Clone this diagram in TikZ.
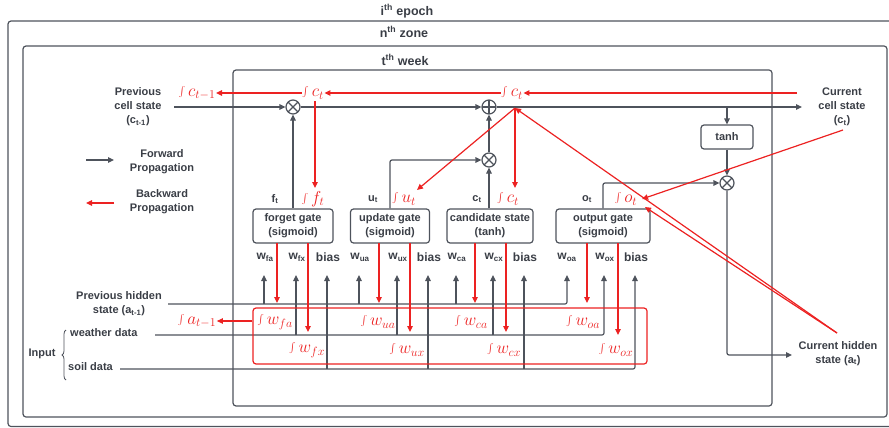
\documentclass[tikz,border=0pt]{standalone}
\usepackage[no-math]{fontspec}
\setmainfont{Liberation Sans}
\usetikzlibrary{arrows.meta,calc,decorations.pathreplacing}
\definecolor{fg}{RGB}{78,83,92}
\definecolor{tx}{RGB}{58,62,70}
\definecolor{rd}{RGB}{236,34,34}
\tikzset{
  ln/.style={draw=fg, line width=1.2pt},
  arr/.style={ln, -{Triangle[length=6pt,width=5.5pt]}},
  rln/.style={draw=rd, line width=1.2pt},
  rarr/.style={rln, -{Triangle[length=6pt,width=5.5pt]}},
  frame/.style={draw=fg, line width=1.2pt, rounded corners=3pt},
  lbl/.style={text=tx, font=\bfseries\fontsize{11}{14}\selectfont, align=center, inner sep=1pt},
  ttl/.style={text=tx, font=\bfseries\fontsize{12.5}{14}\selectfont, inner sep=1pt},
  wl/.style={text=tx, font=\bfseries\fontsize{12}{14}\selectfont, inner sep=1pt},
  gate/.style={draw=fg, line width=1.2pt, rounded corners=3pt, align=center, text=tx,
    font=\bfseries\fontsize{11}{14}\selectfont, minimum height=34pt, inner sep=0pt},
  grad/.style={text=rd, font=\fontsize{17}{19}\selectfont, inner sep=0.5pt},
  opx/.style={circle, draw=fg, line width=1.2pt, minimum size=14pt, inner sep=0pt, fill=white,
    path picture={\draw[fg, line width=1.1pt] (path picture bounding box.north west) -- (path picture bounding box.south east)
      (path picture bounding box.north east) -- (path picture bounding box.south west);}},
  opp/.style={circle, draw=fg, line width=1.2pt, minimum size=14pt, inner sep=0pt, fill=white,
    path picture={\draw[fg, line width=1.1pt] (path picture bounding box.north) -- (path picture bounding box.south)
      (path picture bounding box.east) -- (path picture bounding box.west);}},
}
\begin{document}
\begin{tikzpicture}[x=1pt,y=-1pt]
\useasboundingbox (0,0) rectangle (889,428);
% frames
\draw[frame] (8,21) rectangle (905,426.5);
\draw[frame] (23,46) rectangle (887,417);
\draw[frame] (233,70) rectangle (772,406);
\node[ttl] (epoch) at (407,11) {i\textsuperscript{th} epoch};
\node[ttl] (zone) at (404,32) {n\textsuperscript{th} zone};
\node[ttl] (week) at (405,60) {t\textsuperscript{th} week};

% side labels
\node[lbl] (pcs) at (138,107) {Previous\\cell state\\(c\textsubscript{t-1})};
\node[lbl] (ccs) at (842,107) {Current\\cell state\\(c\textsubscript{t})};
\node[lbl] (chs) at (838,353.5) {Current hidden\\state (a\textsubscript{t})};
\node[lbl] (phs) at (119,304) {Previous hidden\\state (a\textsubscript{t-1})};
\node[lbl, anchor=west] (wd) at (69,333) {weather data};
\node[lbl, anchor=west] (sd) at (67,367) {soil data};
\node[lbl] (inp) at (42,354) {Input};
\coordinate (brb) at (66,380);
\coordinate (brt) at (66,330);
\draw[fg, line width=0.8pt, decorate, decoration={brace, amplitude=4pt}] (brb) -- (brt);

% legend
\node[lbl] (fwd) at (162,161.5) {Forward\\Propagation};
\node[lbl] (bwd) at (162,202) {Backward\\Propagation};
\coordinate (lf1) at (86,160); \coordinate (lf2) at (114,160);
\coordinate (lb1) at (114,203); \coordinate (lb2) at (86,203);
\draw[arr] (lf1) -- (lf2);
\draw[rarr] (lb1) -- (lb2);

% gates
\node[gate, minimum width=80pt] (forget) at (293,226) {forget gate\\(sigmoid)};
\node[gate, minimum width=79pt] (update) at (390,226) {update gate\\(sigmoid)};
\node[gate, minimum width=86pt] (cand) at (490,226) {candidate state\\(tanh)};
\node[gate, minimum width=94pt] (output) at (603,226) {output gate\\(sigmoid)};
\node[gate, minimum width=52pt, minimum height=24pt] (tanh) at (727,137) {tanh};

% operators
\node[opx] (mf) at (293,107) {};
\node[opp] (ma) at (489,107) {};
\node[opx] (mu) at (489,160) {};
\node[opx] (mo) at (727,183) {};

% gate output labels
\node[lbl] (ft) at (275,199) {f\textsubscript{t}};
\node[lbl] (ut) at (373,199) {u\textsubscript{t}};
\node[lbl] (ctl) at (477,199) {c\textsubscript{t}};
\node[lbl] (ot) at (587,199) {o\textsubscript{t}};

% forward cell line
\coordinate (pcsl) at (174,107);
\coordinate (ccsl) at (802,107);
\coordinate (ctap) at (727,107);
\coordinate (chsl) at (792,355);
\draw[arr] (pcsl) -- (mf);
\draw[arr] (mf) -- (ma);
\draw[arr] (ma) -- (ccsl);
\draw[arr] (forget.north -| mf) -- (mf);
\draw[arr, rounded corners=2pt] (update.north) |- (mu);
\draw[arr] (cand.north -| mu) -- (mu);
\draw[arr] (mu) -- (ma);
\draw[arr, rounded corners=2pt] (output.north) |- (mo);
\draw[arr] (ctap) -- (tanh);
\draw[arr] (tanh) -- (mo);
\draw[arr, rounded corners=2pt] (mo) |- (chsl);

% weight labels
\node[wl] (wfa) at (265,257) {w\textsubscript{fa}};
\node[wl] (wfx) at (297,257) {w\textsubscript{fx}};
\node[wl] (bf) at (328,257) {bias};
\node[wl] (wua) at (360,257) {w\textsubscript{ua}};
\node[wl] (wux) at (398,257) {w\textsubscript{ux}};
\node[wl] (bu) at (429,257) {bias};
\node[wl] (wca) at (457,257) {w\textsubscript{ca}};
\node[wl] (wcx) at (494,257) {w\textsubscript{cx}};
\node[wl] (bc) at (525,257) {bias};
\node[wl] (woa) at (567,257) {w\textsubscript{oa}};
\node[wl] (wox) at (605,257) {w\textsubscript{ox}};
\node[wl] (bo) at (636,257) {bias};

% input lines
\coordinate (phl) at (168,304);
\coordinate (wdl) at (155,335);
\coordinate (sdl) at (120,369);
\draw[arr, rounded corners=2pt] (phl) -- (567,304) -- (567,275);
\draw[arr, rounded corners=2pt] (wdl) -- (604,335) -- (604,275);
\draw[arr, rounded corners=2pt] (sdl) -- (635,369) -- (635,275);
\foreach \x/\y in {264/304,296/335,327/369,359/304,397/335,428/369,456/304,493/335,524/369}
  \draw[arr] (\x,\y) -- (\x,275);

% backward: weights
\node[draw=rd, line width=1.2pt, rounded corners=3pt, minimum width=394pt, minimum height=56pt, inner sep=0pt] (gbox) at (450,336) {};
\foreach \x/\y in {277/303,308/332,379/303,410/332,475/303,506/332,587/303,618/335}
  \draw[rarr] (\x,243) -- (\x,\y);
\node[grad] (gwfa) at (275,322) {$\int w_{fa}$};
\node[grad] (gwfx) at (307,350) {$\int w_{fx}$};
\node[grad] (gwua) at (378,322) {$\int w_{ua}$};
\node[grad] (gwux) at (407,350) {$\int w_{ux}$};
\node[grad] (gwca) at (471,322) {$\int w_{ca}$};
\node[grad] (gwcx) at (504,350) {$\int w_{cx}$};
\node[grad] (gwoa) at (583,322) {$\int w_{oa}$};
\node[grad] (gwox) at (616,350) {$\int w_{ox}$};
\node[grad] (gat) at (197,321) {$\int a_{t-1}$};
\draw[rarr] (gbox.west |- gat) -- (gat.east);

% backward: cell
\node[grad] (gct) at (512,93) {$\int c_t$};
\node[grad] (gct2) at (313,93) {$\int c_t$};
\node[grad] (gctm) at (197,93) {$\int c_{t-1}$};
\node[grad] (gft) at (313,199) {$\int f_t$};
\node[grad] (gut) at (404,199) {$\int u_t$};
\node[grad] (gcc) at (508,199) {$\int c_t$};
\node[grad] (got) at (626,199) {$\int o_t$};
\coordinate (ccsr) at (797,93);
\coordinate (ccsb) at (843,130);
\coordinate (chsa) at (837,333);
\coordinate (conv) at (515,108);
\coordinate (ct2d) at (315,101);
\coordinate (ftt) at (315,188);
\coordinate (utt) at (417,190);
\coordinate (cct) at (515,188);
\coordinate (ot1) at (642,199);
\coordinate (ot2) at (645,207);
\draw[rarr] (ccsr) -- (gct.east);
\draw[rarr] (gct.west) -- (gct2.east);
\draw[rarr] (gct2.west) -- (gctm.east);
\draw[rarr] (ct2d) -- (ftt);
\draw[rarr] (chsa) -- (conv);
\draw[rarr] (conv) -- (utt);
\draw[rarr] (conv) -- (cct);
\draw[rarr] (ccsb) -- (ot1);
\draw[rarr] (chsa) -- (ot2);
\end{tikzpicture}
\end{document}
